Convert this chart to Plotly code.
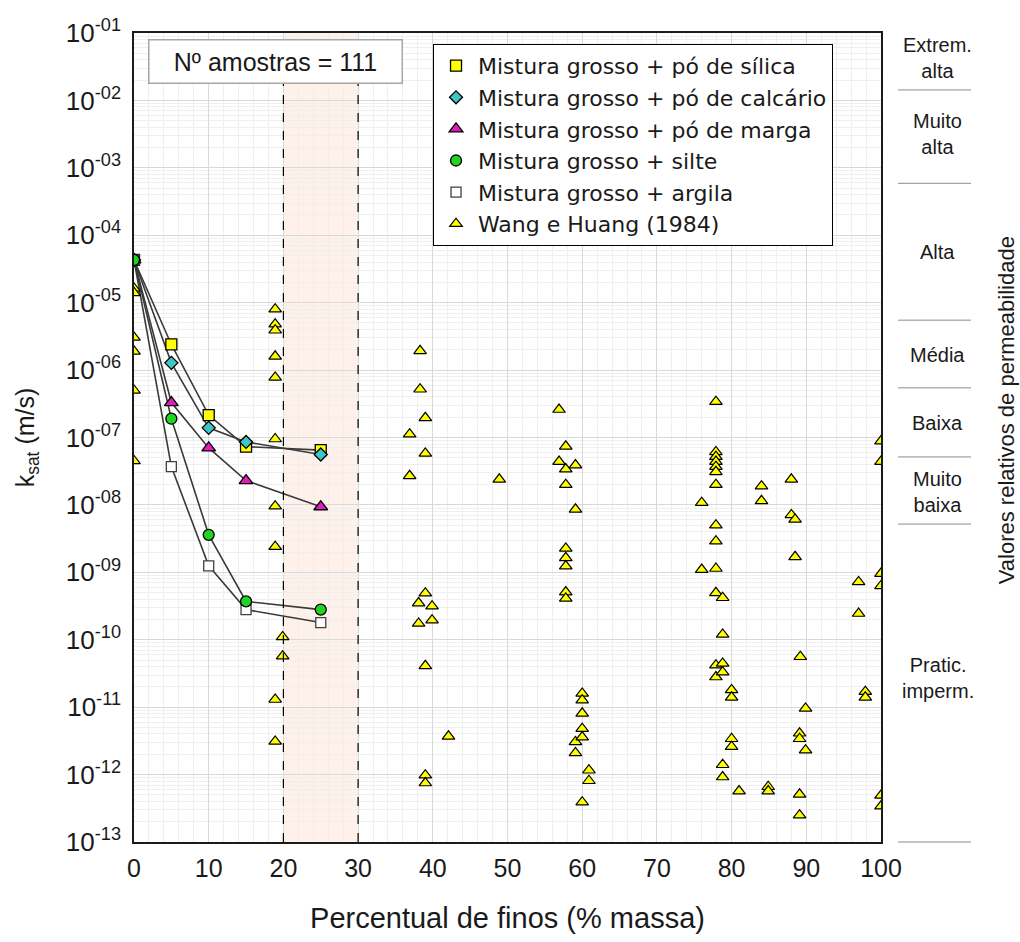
import math
import plotly.graph_objects as go

# ---------------- data ----------------
fines_mix = [0, 5, 10, 15, 25]
k_silica = [4.3e-5, 2.4e-6, 2.15e-7, 7.3e-8, 6.5e-8]
k_calcario = [4.3e-5, 1.28e-6, 1.39e-7, 8.6e-8, 5.6e-8]
k_marga = [4.3e-5, 3.3e-7, 7.0e-8, 2.3e-8, 9.4e-9]
k_silte = [4.3e-5, 1.9e-7, 3.6e-9, 3.7e-10, 2.8e-10]
k_argila = [4.3e-5, 3.7e-8, 1.25e-9, 2.8e-10, 1.8e-10]

wang_x = (
    [0] * 6
    + [18.9] * 10 + [19.9] * 2
    + [38.3] * 2 + [39.0] * 6 + [36.9] * 2 + [48.9] + [38.1] * 2 + [39.9] * 2 + [42.1]
    + [56.9] * 2 + [57.8] * 8 + [59.1] * 4 + [60.0] * 6 + [60.9] * 2
    + [77.9] * 13 + [76.0] * 2 + [84.0] * 2 + [88.0] * 2 + [88.5] * 2 + [78.8] * 6
    + [97.0] * 2 + [100] * 6 + [89.2] + [80.0] * 4 + [97.9] * 2 + [89.9] * 2
    + [89.1] * 4 + [81.0] + [84.9] * 2
)
wang_k = (
    [1.63e-5, 1.4e-5, 3.05e-6, 1.9e-6, 5.0e-7, 4.5e-8]
    + [8.0e-6, 4.8e-6, 3.9e-6, 1.6e-6, 7.8e-7, 9.5e-8, 9.6e-9, 2.4e-9, 1.3e-11, 3.1e-12]
    + [1.1e-10, 5.7e-11]
    + [1.93e-6, 5.2e-7]
    + [1.96e-7, 5.8e-8, 4.9e-10, 4.1e-11, 9.8e-13, 7.5e-13]
    + [1.12e-7, 2.7e-8]
    + [2.4e-8]
    + [3.5e-10, 1.75e-10]
    + [3.15e-10, 1.95e-10]
    + [3.7e-12]
    + [2.6e-7, 4.4e-8]
    + [7.4e-8, 3.4e-8, 2.0e-8, 2.26e-9, 1.64e-9, 1.24e-9, 5.1e-10, 4.1e-10]
    + [3.9e-8, 8.6e-9, 3.05e-12, 2.1e-12]
    + [1.6e-11, 1.27e-11, 8.1e-12, 4.8e-12, 3.6e-12, 3.9e-13]
    + [1.16e-12, 8.1e-13]
    + [3.4e-7, 6.1e-8, 5.2e-8, 4.4e-8, 3.7e-8, 3.1e-8, 2.0e-8, 5.0e-9, 2.9e-9,
       1.14e-9, 4.97e-10, 4.2e-11, 2.8e-11]
    + [1.08e-8, 1.1e-9]
    + [1.9e-8, 1.15e-8]
    + [2.4e-8, 7.1e-9]
    + [6.1e-9, 1.7e-9]
    + [4.2e-10, 1.2e-10, 4.45e-11, 3.3e-11, 1.4e-12, 9.2e-13]
    + [7.2e-10, 2.45e-10]
    + [9.6e-10, 6.3e-10, 4.9e-13, 3.4e-13, 8.85e-8, 4.4e-8]
    + [5.6e-11]
    + [1.8e-11, 1.4e-11, 3.4e-12, 2.6e-12]
    + [1.7e-11, 1.4e-11]
    + [9.6e-12, 2.3e-12]
    + [4.1e-12, 3.4e-12, 5.1e-13, 2.5e-13]
    + [5.7e-13]
    + [6.6e-13, 5.7e-13]
)

series_names = [
    "Mistura grosso + pó de sílica",
    "Mistura grosso + pó de calcário",
    "Mistura grosso + pó de marga",
    "Mistura grosso + silte",
    "Mistura grosso + argila",
]
wang_name = "Wang e Huang (1984)"

y_exponents = list(range(1, 14))
y_tickvals = [10.0 ** (-e) for e in y_exponents]
y_ticktext = [f"10<sup>-{e:02d}</sup>" for e in y_exponents]
x_ticks = list(range(0, 101, 10))

# permeability class boundaries (m/s)
class_limits = [1.43e-2, 5.9e-4, 5.5e-6, 5.45e-7, 5.15e-8, 5.2e-9, 1e-13]
class_labels = ["Extrem.<br>alta", "Muito<br>alta", "Alta", "Média", "Baixa",
                "Muito<br>baixa", "Pratic.<br>imperm."]
class_label_k = [4.25e-2, 3.17e-3, 5.6e-5, 1.67e-6, 1.64e-7, 1.57e-8, 2.74e-11]

fine_band = [20, 30]
n_samples = 111

# ---------------- figure ----------------
FONT = "Liberation Sans, Arial, sans-serif"
LEGFONT = "DejaVu Sans, Liberation Sans, sans-serif"
YMIN, YMAX = -13, -1


def kpaper(k):
    return (math.log10(k) - YMIN) / (YMAX - YMIN)


fig = go.Figure()

styles = [
    dict(symbol="square", color="#ffff00", size=11),
    dict(symbol="diamond", color="#40c4c4", size=10),
    dict(symbol="triangle-up", color="#e21cbc", size=12),
    dict(symbol="circle", color="#22d322", size=11),
    dict(symbol="square", color="#ffffff", size=10),
]
all_k = [k_silica, k_calcario, k_marga, k_silte, k_argila]

# connecting lines
for name, ks in zip(series_names, all_k):
    fig.add_trace(go.Scatter(
        x=fines_mix, y=ks, mode="lines", showlegend=False, hoverinfo="skip",
        line=dict(color="#3a3a3a", width=1.6),
    ))

# Wang & Huang points
fig.add_trace(go.Scatter(
    x=wang_x, y=wang_k, mode="markers", name=wang_name, legendrank=6,
    marker=dict(symbol="triangle-up", color="#ffff00", size=11,
                line=dict(color="#000000", width=1.2)),
))

# mixture markers (argila before silte so green is on top)
order = [0, 1, 2, 4, 3]
for i in order:
    st = styles[i]
    fig.add_trace(go.Scatter(
        x=fines_mix, y=all_k[i], mode="markers", name=series_names[i],
        legendrank=i + 1,
        marker=dict(symbol=st["symbol"], color=st["color"], size=st["size"],
                    line=dict(color="#000000" if i != 4 else "#404040", width=1.3)),
    ))

# shaded band and dashed limits
fig.add_shape(type="rect", xref="x", yref="paper", x0=fine_band[0], x1=fine_band[1],
              y0=0, y1=1, fillcolor="#fdf1ea", line=dict(width=0), layer="below")
for xv in fine_band:
    fig.add_shape(type="line", xref="x", yref="paper", x0=xv, x1=xv, y0=0, y1=1,
                  line=dict(color="#000000", width=1.2, dash="dash"), layer="above")

# class separators and labels
for k in class_limits:
    p = kpaper(k)
    fig.add_shape(type="line", xref="paper", yref="paper", x0=1.0228, x1=1.1205,
                  y0=p, y1=p, line=dict(color="#8c8c8c", width=1))
for lab, k in zip(class_labels, class_label_k):
    fig.add_annotation(xref="paper", yref="paper", x=1.0763, y=kpaper(k), text=lab,
                       xanchor="center", yanchor="middle",
                       showarrow=False, font=dict(family=FONT, size=20, color="#1a1a1a"),
                       align="center")

fig.add_annotation(xref="paper", yref="paper", x=1.169, y=0.534,
                   xanchor="center", yanchor="middle",
                   text="Valores relativos de permeabilidade", textangle=-90,
                   showarrow=False, font=dict(family=FONT, size=22, color="#1a1a1a"))

fig.add_annotation(xref="paper", yref="paper", x=0.19, y=0.9645,
                   xanchor="center", yanchor="middle",
                   text=f"Nº amostras = {n_samples}", showarrow=False,
                   width=250, height=40, bgcolor="#ffffff", bordercolor="#a6a6a6",
                   borderwidth=1.5, font=dict(family=FONT, size=25, color="#1a1a1a"))

fig.update_layout(
    width=1020, height=942,
    margin=dict(l=134, r=139, t=33, b=100),
    paper_bgcolor="#ffffff", plot_bgcolor="#ffffff",
    font=dict(family=FONT, size=20, color="#1a1a1a"),
    legend=dict(x=0.4003, y=0.9865, xanchor="left", yanchor="top",
                bgcolor="#ffffff", bordercolor="#000000", borderwidth=1,
                font=dict(family=LEGFONT, size=22, color="#1a1a1a"),
                itemwidth=34, tracegroupgap=0),
    xaxis=dict(
        range=[0, 100], tickmode="array", tickvals=x_ticks, automargin=False,
        showline=True, linecolor="#1a1a1a", linewidth=1.5, mirror=True,
        showgrid=True, gridcolor="#d9d9d9", gridwidth=1, zeroline=False,
        minor=dict(dtick=2, showgrid=True, gridcolor="#efefef", gridwidth=1),
        ticks="", tickfont=dict(family=FONT, size=25, color="#1a1a1a"),
        ticklabelstandoff=3,
        title=dict(text="Percentual de finos (% massa)", standoff=27,
                   font=dict(family=FONT, size=29, color="#1a1a1a")),
    ),
    yaxis=dict(
        type="log", range=[YMIN, YMAX], tickmode="array", tickvals=y_tickvals,
        ticktext=y_ticktext, automargin=False,
        showline=True, linecolor="#1a1a1a", linewidth=1.5, mirror=True,
        showgrid=True, gridcolor="#d9d9d9", gridwidth=1, zeroline=False,
        minor=dict(dtick="D1", showgrid=True, gridcolor="#efefef", gridwidth=1),
        ticks="", tickfont=dict(family=FONT, size=26, color="#1a1a1a"),
        ticklabelstandoff=6,
        title=dict(text="k<sub>sat</sub> (m/s)", standoff=24,
                   font=dict(family=FONT, size=25, color="#1a1a1a")),
    ),
)

fig.write_html("out.html")
